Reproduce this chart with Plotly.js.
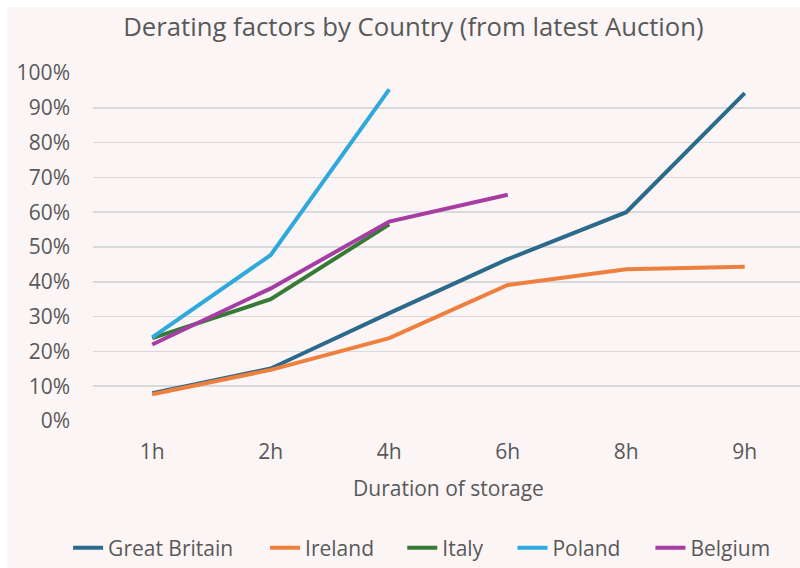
<!DOCTYPE html>
<html>
<head>
<meta charset="utf-8">
<script src="https://cdn.plot.ly/plotly-3.0.1.min.js"></script>
<style>
  html, body { margin: 0; padding: 0; background: #ffffff; overflow: hidden; width: 800px; height: 568px; }
  #chart { position: absolute; left: 7px; top: 7px; width: 800px; height: 561px; }
</style>
</head>
<body>
<div id="chart"></div>
<script>
const categories = ['1h', '2h', '4h', '6h', '8h', '9h'];
const greatBritain = [0.080, 0.151, 0.310, 0.465, 0.600, 0.942];
const ireland      = [0.077, 0.147, 0.238, 0.391, 0.436, 0.443];
const italy        = [0.238, 0.350, 0.565, null, null, null];
const poland       = [0.240, 0.477, 0.953, null, null, null];
const belgium      = [0.220, 0.381, 0.573, 0.650, null, null];
const seriesNames  = ['Great Britain', 'Ireland', 'Italy', 'Poland', 'Belgium'];
const seriesValues = [greatBritain, ireland, italy, poland, belgium];
const seriesColors = ['#2C6A8C', '#EF7F3D', '#357A35', '#2FA8DB', '#A63DA3'];
const yTickVals = [0, 0.1, 0.2, 0.3, 0.4, 0.5, 0.6, 0.7, 0.8, 0.9, 1.0];
const yTickText = ['0%', '10%', '20%', '30%', '40%', '50%', '60%', '70%', '80%', '90%', '100%'];

const FONT = '"Open Sans", Roboto, sans-serif';
const GREY = '#595959';

// each series has its own legend box so the entries can be spaced like the original
const legendIds = ['legend', 'legend2', 'legend3', 'legend4', 'legend5'];
const legendX = [-0.035, 0.242, 0.435, 0.59, 0.784];

const traces = seriesNames.map((name, i) => ({
  type: 'scatter',
  mode: 'lines',
  name: name,
  x: categories,
  y: seriesValues[i],
  connectgaps: false,
  legend: legendIds[i],
  line: { color: seriesColors[i], width: 4, shape: 'linear' },
  hoverinfo: 'x+y+name'
}));

const layout = {
  width: 800,
  height: 561,
  paper_bgcolor: '#FBF5F5',
  plot_bgcolor: '#FBF5F5',
  margin: { l: 86, r: 3, t: 66, b: 147, autoexpand: false },
  font: { family: FONT, color: GREY, size: 21 },
  title: {
    text: 'Derating factors by Country (from latest Auction)',
    font: { family: FONT, size: 25.7, color: GREY },
    x: 0.508, xanchor: 'center',
    y: 0.964, yanchor: 'middle', yref: 'container'
  },
  xaxis: {
    type: 'category',
    categoryorder: 'array',
    categoryarray: categories,
    range: [-0.5, 5.5],
    showgrid: false,
    showline: false,
    zeroline: false,
    ticks: '',
    automargin: false,
    tickfont: { family: FONT, size: 21, color: GREY },
    ticklabelstandoff: 16,
    title: { text: 'Duration of storage', font: { family: FONT, size: 21, color: GREY }, standoff: 17 },
    fixedrange: true
  },
  yaxis: {
    range: [0, 1],
    tickvals: yTickVals,
    ticktext: yTickText,
    showgrid: true,
    gridcolor: '#D9D9D9',
    gridwidth: 1.5,
    zeroline: false,
    showline: false,
    ticks: '',
    automargin: false,
    ticklabelstandoff: 22,
    tickfont: { family: FONT, size: 21, color: GREY },
    fixedrange: true
  },
  showlegend: true
};

legendIds.forEach((id, i) => {
  layout[id] = {
    orientation: 'h',
    x: legendX[i], xanchor: 'left',
    y: -0.365, yanchor: 'middle',
    font: { family: FONT, size: 21, color: GREY },
    bgcolor: 'rgba(0,0,0,0)',
    borderwidth: 0
  };
});

Plotly.newPlot('chart', traces, layout, { displayModeBar: false, staticPlot: true });
</script>
</body>
</html>
